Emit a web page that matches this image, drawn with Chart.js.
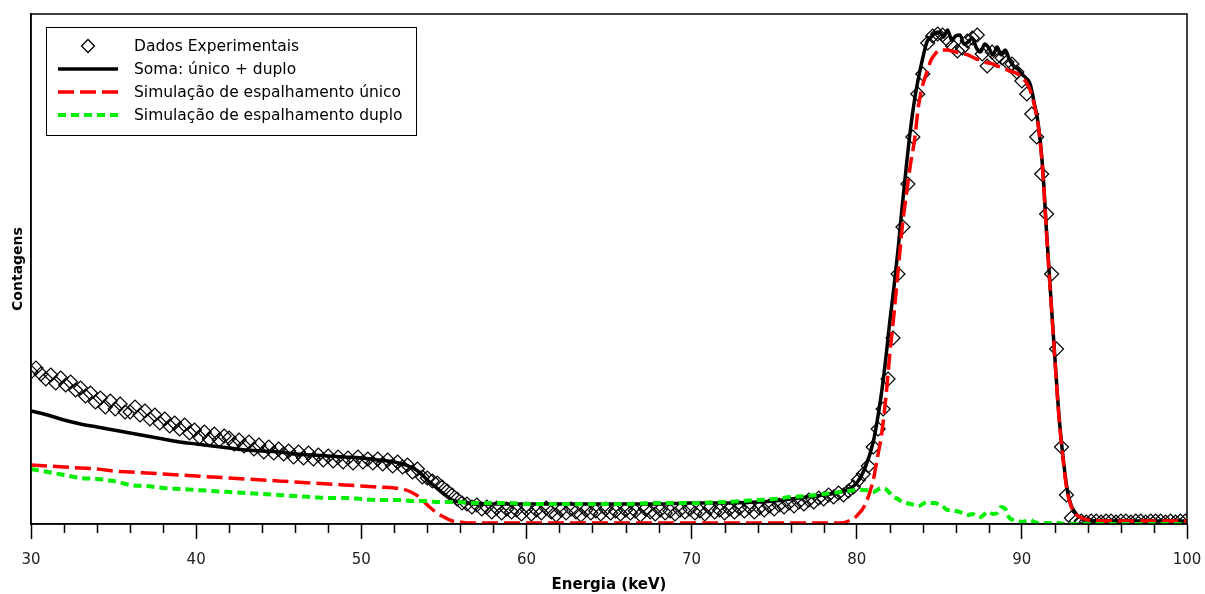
<!DOCTYPE html>
<html>
<head>
<meta charset="utf-8">
<script src="https://cdn.jsdelivr.net/npm/chart.js@4.4.1/dist/chart.umd.min.js"></script>
<style>
  html, body { margin: 0; padding: 0; background: #fff; }
</style>
</head>
<body>
<canvas id="spectrum" width="1205" height="594"></canvas>
<script>
// experimental points: one every 0.3 keV starting at 30 keV
const expStart = 30;
const expStep = 0.3;
const expCounts = [
  152,156,150,145,149,141,146,139,142,134,
  136,128,131,122,126,117,123,115,120,112,
  112,117,109,113,105,109,101,105,98,101,
  95,99,91,94,87,92,85,90,84,88,
  86,80,84,78,82,75,79,72,77,71,
  75,70,73,67,72,66,71,65,69,64,
  68,63,67,62,66,61,67,62,65,61,
  65,60,64,58,62,57,59,52,55,47,
  46,43,41,37,33,29,25,21,20,17,
  19,15,17,12,16,11,15,12,14,10,
  15,10,14,11,16,12,9,14,11,15,
  12,9,14,11,13,10,15,11,13,10,
  14,11,13,9,15,12,10,14,11,13,
  10,14,12,15,11,13,10,16,12,14,
  11,15,12,16,13,17,12,16,14,18,
  15,19,17,21,18,22,20,24,22,26,
  25,29,27,31,29,33,37,44,50,58,
  77,95,115,145,186,250,297,340,387,430,
  450,481,488,490,489,484,478,473,476,483,
  486,489,470,458,472,467,466,462,460,452,
  443,430,410,387,350,310,250,175,77,29,
  6,3,3,2,3,3,2,3,3,2,
  3,3,2,3,3,2,3,3,3,2,
  3,2,3,3
];

// energies of the simulated curves (keV)
const simEnergy = [
  30,31,32,33,34,35,36,37,38,39,
  40,41,42,43,44,45,46,47,48,49,
  50,51,52,52.5,53,53.5,54,54.5,55,55.5,
  56,56.5,57,58,59,60,62,64,66,68,
  70,72,74,75,76,77,78,79,79.5,80,
  80.5,81,81.25,81.5,81.75,82,82.25,82.5,82.75,83,
  83.25,83.5,83.75,84,84.25,84.5,84.75,85,85.25,85.5,
  85.75,86,86.25,86.5,86.75,87,87.25,87.5,87.75,88,
  88.25,88.5,88.75,89,89.25,89.5,89.75,90,90.25,90.5,
  90.75,91,91.25,91.5,91.75,92,92.25,92.5,92.75,93,
  93.25,93.5,94,95,96,98,100
];
const sumCounts = [
  113,109,104,100,97,94,91,88,85,82,
  80,78,76,74,73,72,70,69,68,67,
  66,64,62,60,57,52,44,37,30,24,
  22,21,20,20,20,20,20,20,20,20,
  21,21,22,23,25,27,29,32,35,41,
  56,82,104,131,164,202,236,274,317,357,
  394,424,447,466,482,487,491,492,487,494,
  484,488,489,480,482,486,476,472,480,476,
  469,477,469,474,464,458,455,450,446,440,
  421,399,358,291,228,166,108,66,34,18,
  11,7,4,3,3,3,3
];
const singleCounts = [
  59,58,57,56,55,53,52,51,50,49,
  48,47,46,45,44,43,42,41,40,39,
  38,37,36,35,32,27,19,12,7,3,
  2,1,1,1,1,1,1,1,1,1,
  1,1,1,1,1,1,1,1,3,8,
  19,44,66,89,124,169,209,252,296,329,
  359,384,419,439,452,464,470,474,474,474,
  473,472,471,470,469,467,465,464,462,461,
  460,458,457,455,453,452,450,447,442,434,
  419,397,356,289,226,164,106,64,32,17,
  10,7,4,3,3,3,3
];
const doubleCounts = [
  55,52,49,46,45,43,39,38,36,35,
  34,33,32,31,30,29,28,27,26,26,
  25,24,24,24,23,23,23,22,22,22,
  22,21,21,21,21,20,20,20,20,21,
  21,22,24,25,27,28,30,32,33,34,
  34,32,34,36,35,31,27,25,22,21,
  20,19,18,20,22,21,21,19,17,14,
  14,13,12,10,9,10,8,7,10,12,
  10,11,17,15,6,4,3,2,3,4,
  2,1,1,1,1,1,1,0,0,0,
  0,0,0,0,0,0,0
];
const xTicks = [30, 40, 50, 60, 70, 80, 90, 100];

const expPoints = expCounts.map((c, i) => ({ x: expStart + i * expStep, y: c }));
const toPoints = arr => arr.map((c, i) => ({ x: simEnergy[i], y: c }));

const FONT = '"DejaVu Sans", Verdana, sans-serif';

// frame, minor ticks and the boxed legend
const decorations = {
  id: 'decorations',
  afterDraw(chart) {
    const ctx = chart.ctx;
    const a = chart.chartArea;
    const xs = chart.scales.x;
    ctx.save();
    ctx.strokeStyle = '#000';
    ctx.lineWidth = 1.5;
    ctx.strokeRect(a.left, a.top, a.right - a.left, a.bottom - a.top);

    for (let v = 32; v < 100; v += 2) {
      if (v % 10 === 0) continue;
      const px = Math.round(xs.getPixelForValue(v)) + 0.5;
      ctx.beginPath();
      ctx.moveTo(px, a.bottom);
      ctx.lineTo(px, a.bottom + 9);
      ctx.stroke();
    }

    const bx = a.left + 15, by = a.top + 13, bw = 370, bh = 108;
    ctx.fillStyle = '#fff';
    ctx.fillRect(bx, by, bw, bh);
    ctx.lineWidth = 1;
    ctx.strokeRect(bx + 0.5, by + 0.5, bw, bh);

    ctx.font = '15.5px ' + FONT;
    ctx.textBaseline = 'middle';
    chart.data.datasets.forEach((ds, i) => {
      const y = by + 19 + i * 23;
      const x0 = bx + 12, x1 = bx + 72;
      ctx.save();
      if (ds.showLine === false) {
        const cx = (x0 + x1) / 2, r = 6.5;
        ctx.beginPath();
        ctx.moveTo(cx, y - r);
        ctx.lineTo(cx + r, y);
        ctx.lineTo(cx, y + r);
        ctx.lineTo(cx - r, y);
        ctx.closePath();
        ctx.lineWidth = 1.3;
        ctx.strokeStyle = ds.pointBorderColor;
        ctx.stroke();
      } else {
        ctx.beginPath();
        ctx.setLineDash(ds.borderDash || []);
        ctx.lineWidth = ds.borderWidth;
        ctx.strokeStyle = ds.borderColor;
        ctx.moveTo(x0, y);
        ctx.lineTo(x1, y);
        ctx.stroke();
      }
      ctx.restore();
      ctx.fillStyle = '#000';
      ctx.fillText(ds.label, bx + 88, y + 1);
    });
    ctx.restore();
  }
};

new Chart(document.getElementById('spectrum'), {
  type: 'scatter',
  data: {
    datasets: [
      {
        label: 'Dados Experimentais',
        data: expPoints,
        showLine: false,
        pointStyle: 'rectRot',
        pointRadius: 7,
        pointBorderWidth: 1.2,
        pointBorderColor: '#000',
        pointBackgroundColor: 'rgba(0,0,0,0)',
        order: 4
      },
      {
        label: 'Soma: único + duplo',
        data: toPoints(sumCounts),
        showLine: true,
        borderColor: '#000',
        borderWidth: 3.5,
        pointRadius: 0,
        cubicInterpolationMode: 'monotone',
        order: 3
      },
      {
        label: 'Simulação de espalhamento único',
        data: toPoints(singleCounts),
        showLine: true,
        borderColor: '#ff0000',
        borderWidth: 3.5,
        borderDash: [16, 6],
        pointRadius: 0,
        cubicInterpolationMode: 'monotone',
        order: 2
      },
      {
        label: 'Simulação de espalhamento duplo',
        data: toPoints(doubleCounts),
        showLine: true,
        borderColor: '#00ee00',
        borderWidth: 4,
        borderDash: [8, 5],
        pointRadius: 0,
        cubicInterpolationMode: 'monotone',
        order: 1
      }
    ]
  },
  options: {
    responsive: false,
    animation: false,
    layout: { padding: { left: 10, right: 18, top: 14, bottom: 0 } },
    plugins: {
      legend: { display: false },
      tooltip: { enabled: false }
    },
    scales: {
      x: {
        type: 'linear',
        min: 30,
        max: 100,
        afterBuildTicks: scale => { scale.ticks = xTicks.map(v => ({ value: v })); },
        afterFit: scale => {
          scale.height = 70;
          scale.paddingLeft = 0;
          scale.paddingRight = 0;
        },
        ticks: {
          autoSkip: false,
          maxRotation: 0,
          padding: 12,
          color: '#222',
          font: { family: FONT, size: 15 }
        },
        grid: {
          drawOnChartArea: false,
          tickLength: 15,
          tickColor: '#000',
          tickWidth: 1.5
        },
        border: { color: '#000', width: 1.5 },
        title: {
          display: true,
          text: 'Energia (keV)',
          color: '#000',
          font: { family: FONT, size: 15, weight: 'bold' },
          padding: { top: 2, bottom: 0 }
        }
      },
      y: {
        min: 0,
        max: 510,
        afterFit: scale => { scale.width = 21; },
        ticks: { display: false },
        grid: { display: false },
        border: { color: '#000', width: 1.5 },
        title: {
          display: true,
          text: 'Contagens',
          color: '#000',
          font: { family: FONT, size: 14, weight: 'bold' },
          padding: { top: 0, bottom: 0 }
        }
      }
    }
  },
  plugins: [decorations]
});
</script>
</body>
</html>
